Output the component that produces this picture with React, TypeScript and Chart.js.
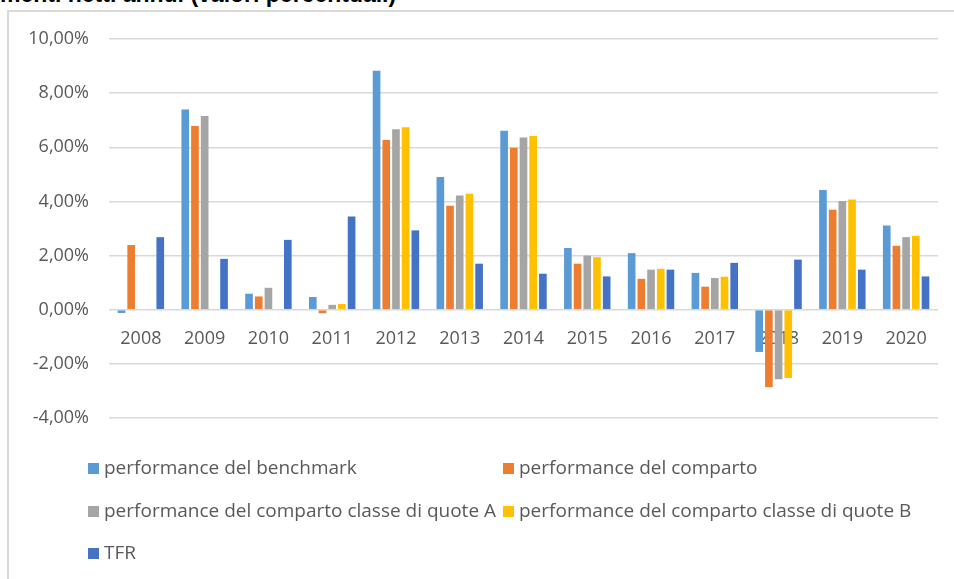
import React, { useEffect, useRef } from "react";
import { Chart, registerables } from "chart.js";

Chart.register(...registerables);

const years = ["2008", "2009", "2010", "2011", "2012", "2013", "2014", "2015", "2016", "2017", "2018", "2019", "2020"];
const seriesNames = [
  "performance del benchmark",
  "performance del comparto",
  "performance del comparto classe di quote A",
  "performance del comparto classe di quote B",
  "TFR",
];
const benchmark = [-0.12, 7.4, 0.59, 0.47, 8.83, 4.9, 6.61, 2.28, 2.09, 1.36, -1.56, 4.42, 3.11];
const comparto = [2.39, 6.79, 0.49, -0.13, 6.27, 3.84, 5.98, 1.7, 1.14, 0.85, -2.86, 3.69, 2.36];
const classeA = [null, 7.16, 0.81, 0.18, 6.67, 4.22, 6.36, 2.0, 1.48, 1.17, -2.57, 4.02, 2.68];
const classeB = [null, null, null, 0.21, 6.74, 4.28, 6.42, 1.94, 1.51, 1.22, -2.52, 4.07, 2.73];
const tfr = [2.68, 1.88, 2.58, 3.44, 2.93, 1.7, 1.33, 1.23, 1.48, 1.73, 1.85, 1.48, 1.23];
const colors = ["#5B9BD5", "#ED7D31", "#A5A5A5", "#FFC000", "#4472C4"];
const yMin = -4;
const yMax = 10;
const yStep = 2;

const FONT = '"Open Sans", "Liberation Sans", sans-serif';
const TEXT = "#595959";

const legendPlugin = {
  id: "gridLegend",
  afterDraw(chart: any) {
    const ctx = chart.ctx;
    const positions = [
      [79, 458],
      [494, 458],
      [79, 501],
      [494, 501],
      [79, 543],
    ];
    ctx.save();
    chart.data.datasets.forEach((ds: any, i: number) => {
      const [x, y] = positions[i];
      ctx.fillStyle = ds.backgroundColor;
      ctx.fillRect(x, y - 6, 11, 11);
      ctx.fillStyle = TEXT;
      ctx.font = "19px " + FONT;
      ctx.textBaseline = "middle";
      ctx.textAlign = "left";
      ctx.fillText(ds.label, x + 16, y);
    });
    ctx.restore();
  },
};

export default function App() {
  const ref = useRef<HTMLCanvasElement>(null);
  useEffect(() => {
    if (!ref.current) return;
    const data = [benchmark, comparto, classeA, classeB, tfr];
    const chart = new Chart(ref.current, {
      type: "bar",
      data: {
        labels: years,
        datasets: seriesNames.map((n, i) => ({
          label: n,
          data: data[i],
          backgroundColor: colors[i],
          borderWidth: 0,
          categoryPercentage: 0.76,
          barPercentage: 0.79,
        })),
      },
      options: {
        animation: false,
        responsive: false,
        devicePixelRatio: 1,
        layout: { padding: { left: 0, right: 16, top: 28, bottom: 161 } },
        plugins: {
          legend: { display: false },
          tooltip: { enabled: false },
          title: { display: false },
        },
        scales: {
          x: {
            position: { y: 0 } as any,
            grid: { display: false, drawTicks: false },
            border: { display: false },
            ticks: { color: TEXT, font: { family: FONT, size: 18 }, padding: 18, maxRotation: 0 },
            afterFit: (s: any) => {
              s.height = 0;
              s.paddingLeft = 0;
              s.paddingRight = 0;
            },
          },
          y: {
            min: yMin,
            max: yMax,
            ticks: {
              stepSize: yStep,
              color: TEXT,
              font: { family: FONT, size: 18 },
              padding: 20,
              callback: (v: any) => Number(v).toFixed(2).replace(".", ",") + "%",
            },
            grid: { color: "#d9d9d9", lineWidth: 1.5, drawTicks: false },
            border: { display: false },
            afterFit: (s: any) => {
              s.width = 100;
              s.paddingTop = 0;
              s.paddingBottom = 0;
            },
          },
        },
      },
      plugins: [legendPlugin],
    });
    return () => chart.destroy();
  }, []);

  return (
    <div style={{ position: "absolute", left: 0, top: 0, width: 954, height: 579, overflow: "hidden", background: "#fff" }}>
      <div
        style={{
          position: "absolute",
          left: 0,
          top: -18,
          fontFamily: '"Liberation Sans", sans-serif',
          fontWeight: "bold",
          fontSize: 23,
          lineHeight: "24px",
          color: "#000",
          whiteSpace: "nowrap",
        }}
      >
        menti netti annui (valori percentuali)
      </div>
      <div
        style={{
          position: "absolute",
          left: 7,
          top: 10,
          width: 980,
          height: 620,
          border: "2px solid #d9d9d9",
        }}
      />
      <canvas ref={ref} width={945} height={568} style={{ position: "absolute", left: 9, top: 11 }} />
    </div>
  );
}
